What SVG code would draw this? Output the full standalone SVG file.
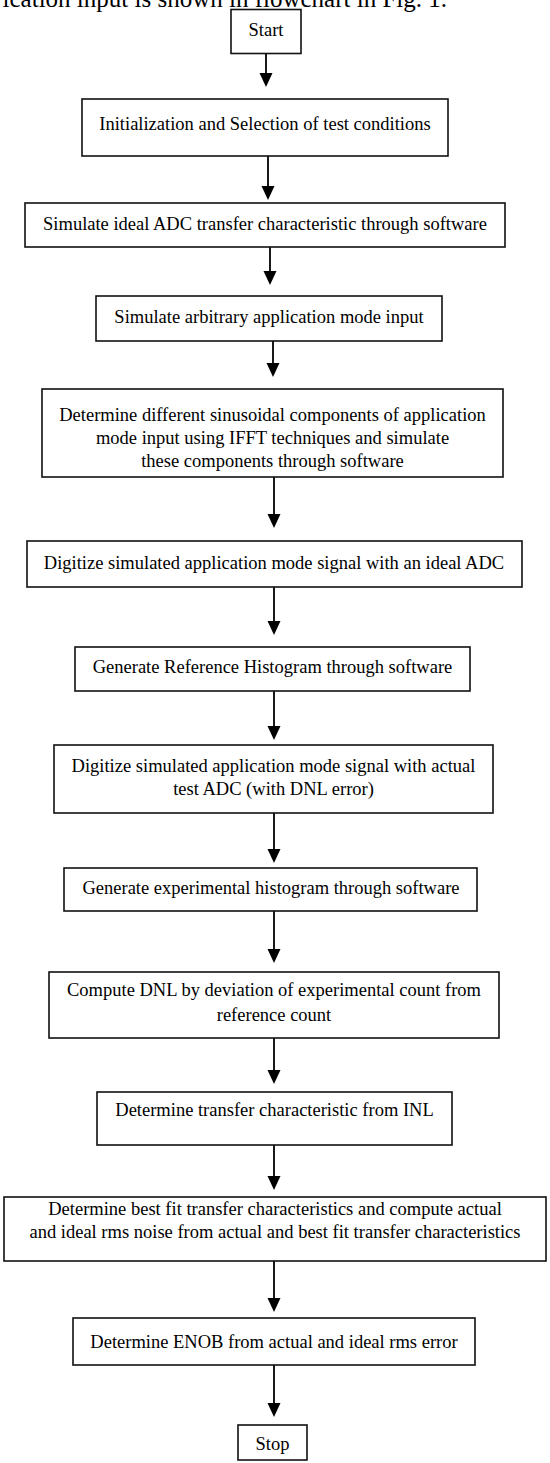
<svg xmlns="http://www.w3.org/2000/svg" width="550" height="1463" viewBox="0 0 550 1463">
<style>
.box{fill:#fff;stroke:#111;stroke-width:1.6}
.t{font-family:"Liberation Serif","Times New Roman",serif;font-size:18.5px;fill:#000;text-anchor:middle}
.c{stroke:#000;stroke-width:1.8;fill:none}
</style>
<defs>
<marker id="ah" viewBox="0 -7 14 14" refX="10" refY="0" markerWidth="14" markerHeight="14" markerUnits="userSpaceOnUse" orient="auto">
<path d="M0,-6.5 L14,0 L0,6.5 Z" fill="#000"/>
</marker>
</defs>
<rect width="550" height="1463" fill="#fff"/>
<text x="447" y="7" style="font-family:'Liberation Serif',serif;font-size:25px;text-anchor:end">ication input is shown in flowchart in Fig. 1.</text>
<g id="connectors">
<line class="c" x1="266" y1="53.5" x2="266" y2="83" marker-end="url(#ah)"/>
<line class="c" x1="268" y1="156" x2="268" y2="196" marker-end="url(#ah)"/>
<line class="c" x1="270" y1="247" x2="270" y2="281" marker-end="url(#ah)"/>
<line class="c" x1="273" y1="341" x2="273" y2="373" marker-end="url(#ah)"/>
<line class="c" x1="274" y1="477" x2="274" y2="524" marker-end="url(#ah)"/>
<line class="c" x1="274" y1="587" x2="274" y2="631" marker-end="url(#ah)"/>
<line class="c" x1="274" y1="691" x2="274" y2="736" marker-end="url(#ah)"/>
<line class="c" x1="274" y1="813" x2="274" y2="859" marker-end="url(#ah)"/>
<line class="c" x1="274" y1="911" x2="274" y2="959" marker-end="url(#ah)"/>
<line class="c" x1="274" y1="1038" x2="274" y2="1080" marker-end="url(#ah)"/>
<line class="c" x1="274" y1="1145" x2="274" y2="1186" marker-end="url(#ah)"/>
<line class="c" x1="274" y1="1261" x2="274" y2="1308" marker-end="url(#ah)"/>
<line class="c" x1="274" y1="1365" x2="274" y2="1413" marker-end="url(#ah)"/>
</g>
<g id="n1"><rect class="box" x="231" y="9.5" width="70" height="44"/><text class="t" x="266" y="36">Start</text></g>
<g id="n2"><rect class="box" x="82" y="99" width="366" height="57"/><text class="t" x="265" y="130">Initialization and Selection of test conditions</text></g>
<g id="n3"><rect class="box" x="25" y="203" width="480" height="44"/><text class="t" x="265" y="230">Simulate ideal ADC transfer characteristic through software</text></g>
<g id="n4"><rect class="box" x="96" y="296" width="346" height="45"/><text class="t" x="269" y="323">Simulate arbitrary application mode input</text></g>
<g id="n5"><rect class="box" x="42" y="389" width="461" height="88"/><text class="t" x="272.5" y="421">Determine different sinusoidal components of application</text><text class="t" x="272.5" y="444">mode input using IFFT techniques and simulate</text><text class="t" x="272.5" y="467">these components through software</text></g>
<g id="n6"><rect class="box" x="27" y="541" width="495" height="46"/><text class="t" x="274" y="569">Digitize simulated application mode signal with an ideal ADC</text></g>
<g id="n7"><rect class="box" x="75" y="647" width="395" height="44"/><text class="t" x="272.5" y="673">Generate Reference Histogram through software</text></g>
<g id="n8"><rect class="box" x="54" y="745" width="439" height="68"/><text class="t" x="273.5" y="772">Digitize simulated application mode signal with actual</text><text class="t" x="273.5" y="795">test ADC (with DNL error)</text></g>
<g id="n9"><rect class="box" x="64" y="868" width="413" height="43"/><text class="t" x="271" y="894">Generate experimental histogram through software</text></g>
<g id="n10"><rect class="box" x="49" y="972" width="450" height="66"/><text class="t" x="274" y="996">Compute DNL by deviation of experimental count from</text><text class="t" x="274" y="1021">reference count</text></g>
<g id="n11"><rect class="box" x="97" y="1092" width="355" height="53"/><text class="t" x="274.5" y="1116">Determine transfer characteristic from INL</text></g>
<g id="n12"><rect class="box" x="4" y="1197" width="542" height="64"/><text class="t" x="275" y="1215">Determine best fit transfer characteristics and compute actual</text><text class="t" x="275" y="1238">and ideal rms noise from actual and best fit transfer characteristics</text></g>
<g id="n13"><rect class="box" x="73" y="1318" width="402" height="47"/><text class="t" x="274" y="1348">Determine ENOB from actual and ideal rms error</text></g>
<g id="n14"><rect class="box" x="238" y="1425" width="69" height="35"/><text class="t" x="272.5" y="1450">Stop</text></g>
</svg>
